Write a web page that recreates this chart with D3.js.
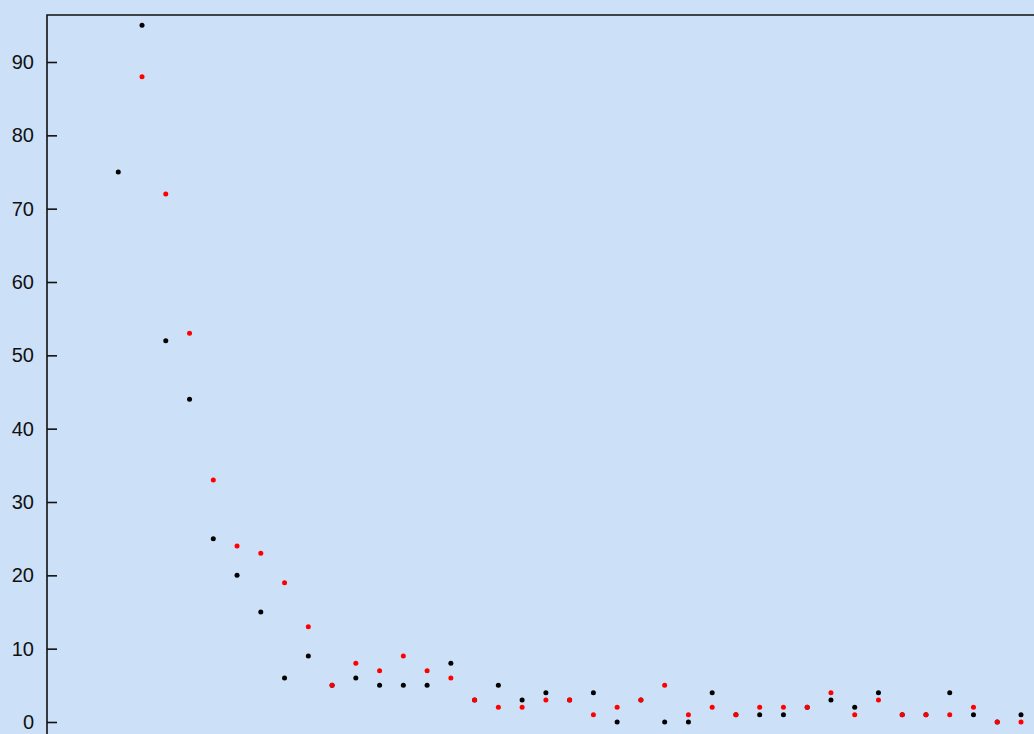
<!DOCTYPE html>
<html>
	<head>
		<meta charset="utf-8">
		<style type="text/css">
			body { margin: 0; background: #cce0f8; overflow: hidden; }
			svg { display: block; }
		</style>
		<title>scatter</title>
	</head>
	<body>
		<script src="https://cdn.jsdelivr.net/npm/d3@7"></script>
		<script>

// values per index; red has no value at index 0
var blackValues = [75, 95, 52, 44, 25, 20, 15, 6, 9, 5, 6, 5, 5, 5, 8, 3, 5, 3, 4, 3,
                   4, 0, 3, 0, 0, 4, 1, 1, 1, 2, 3, 2, 4, 1, 1, 4, 1, 0, 1];
var redValues   = [null, 88, 72, 53, 33, 24, 23, 19, 13, 5, 8, 7, 9, 7, 6, 3, 2, 2, 3, 3,
                   1, 2, 3, 5, 1, 2, 1, 2, 2, 2, 4, 1, 3, 1, 1, 1, 2, 0, 0];
var yTicks = [0, 10, 20, 30, 40, 50, 60, 70, 80, 90];

var width = 1034, height = 734;
var marginLeft = 47, marginTop = 15;

var svg = d3.select('body').append('svg')
    .attr('width', width)
    .attr('height', height);

var x = d3.scaleLinear()
    .domain([-3, blackValues.length - 1])
    .range([marginLeft, 1021]);

var y = d3.scaleLinear()
    .domain([0, 90])
    .range([722, 62]);

// frame: left and top lines
svg.append('path')
    .attr('d', `M${marginLeft},${height + 5}V${marginTop}H${width + 5}`)
    .attr('fill', 'none')
    .attr('stroke', '#111')
    .attr('stroke-width', 1.6);

var yAxis = d3.axisLeft(y)
    .tickValues(yTicks)
    .tickSizeInner(-10)
    .tickSizeOuter(0)
    .tickPadding(13);

var gy = svg.append('g')
    .attr('transform', `translate(${marginLeft},0)`)
    .call(yAxis);
gy.select('.domain').remove();
gy.attr('font-family', '"Liberation Sans", Arial, sans-serif')
  .attr('font-size', 20);
gy.selectAll('.tick line').attr('stroke', '#111').attr('stroke-width', 1.6);
gy.selectAll('.tick text').attr('fill', '#111');

function dots(values, colour) {
	svg.append('g')
	  .selectAll('circle')
	  .data(values.map((v, i) => [i, v]).filter(d => d[1] !== null))
	  .join('circle')
		.attr('cx', d => x(d[0]))
		.attr('cy', d => y(d[1]))
		.attr('r', 2.5)
		.attr('fill', colour);
}

dots(blackValues, '#000');
dots(redValues, '#ff0000');

		</script>
	</body>
</html>
